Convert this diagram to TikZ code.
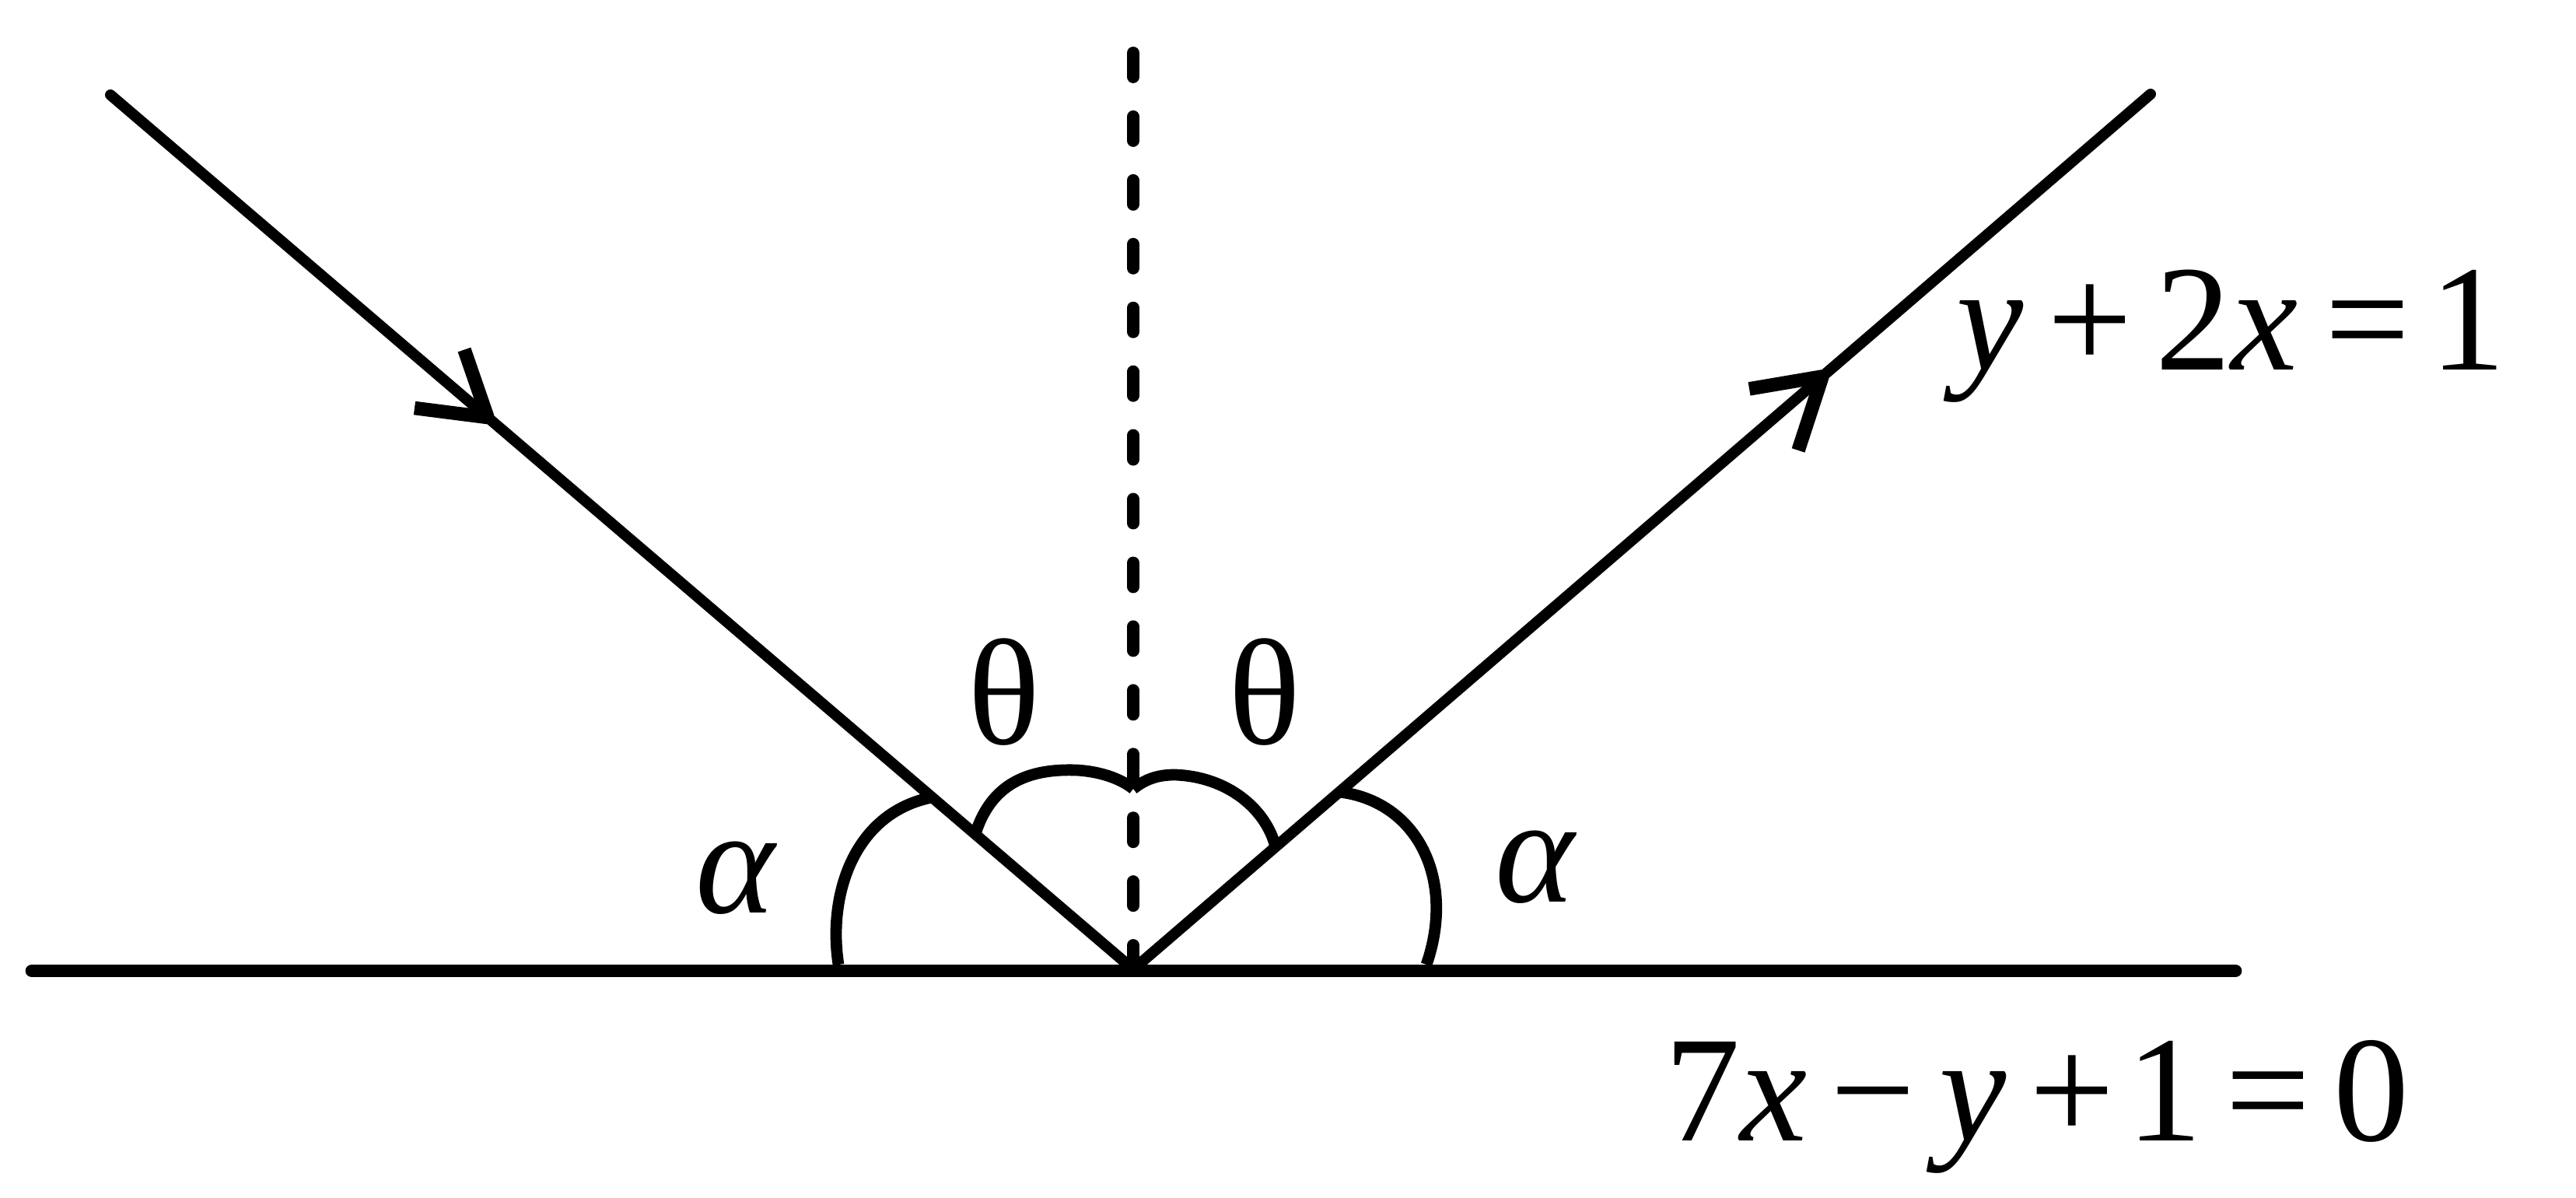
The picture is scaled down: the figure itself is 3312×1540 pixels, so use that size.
\documentclass[tikz,border=0pt]{standalone}
\usepackage{fontspec}
\setmainfont{Liberation Serif}
\usetikzlibrary{calc}
\begin{document}
\begin{tikzpicture}[x=0.01cm,y=-0.01cm,
  ray/.style={line width=3.98pt,line cap=round},
  mirrorline/.style={line width=4.75pt,line cap=round},
  normalline/.style={line width=4.55pt,line cap=round,dash pattern=on 8.8pt off 14.5pt},
  anglearc/.style={line width=4.2pt},
  barb/.style={line width=5pt,line join=bevel},
  lbl/.style={inner sep=0pt,font=\fontsize{55.2pt}{60pt}\selectfont}]
\useasboundingbox (0,0) rectangle (3312,1540);
\coordinate (A) at (142,122);
\coordinate (B) at (2765,121);
\coordinate (P) at (1457,1246);
\coordinate (L) at (41,1248);
\coordinate (R) at (2874,1248);
\coordinate (T) at (1457,68);
\draw[mirrorline] (L) -- (R);
\draw[ray] (A) -- (P);
\draw[ray] (P) -- (B);
\draw[normalline] (T) -- (P);
% angle arcs
\draw[anglearc] (1078,1240) .. controls (1064,1150) and (1098,1045) .. (1198,1025);
\draw[anglearc] (1254,1072) .. controls (1275,1005) and (1325,988) .. (1384,990)
  .. controls (1420,992) and (1445,1004) .. (1457,1014);
\draw[anglearc] (1457,1014) .. controls (1472,1002) and (1488,996) .. (1510,996)
  .. controls (1578,998) and (1628,1040) .. (1640,1089);
\draw[anglearc] (1722,1018) .. controls (1822,1030) and (1872,1130) .. (1834,1240);
% arrow heads
\coordinate (t1) at ($(A)!0.3688!(P)$);
\draw[barb] ($(t1)+(-94,-12)$) -- (t1) -- ($(t1)+(-30,-87)$);
\coordinate (t2) at ($(P)!0.6774!(B)$);
\draw[barb] ($(t2)+(-94,16)$) -- (t2) -- ($(t2)+(-31,95)$);
% labels
\node[lbl] (th1) at (1291,890) {θ};
\node[lbl] (th2) at (1626,890) {θ};
\node[lbl] (al1) at (947,1129) {\textit{α}};
\node[lbl] (al2) at (1975,1115) {\textit{α}};
\node[lbl,anchor=base west] (eq1) at (2515,476) {\textit{y}\hspace{0.3cm}+\hspace{0.3cm}2\textit{x}\hspace{0.35cm}=\hspace{0.25cm}1};
\node[lbl,anchor=base west] (eq2) at (2140,1466) {7\textit{x}\hspace{0.3cm}−\hspace{0.3cm}\textit{y}\hspace{0.3cm}+\hspace{0.15cm}1\hspace{0.3cm}=\hspace{0.3cm}0};
\end{tikzpicture}
\end{document}
